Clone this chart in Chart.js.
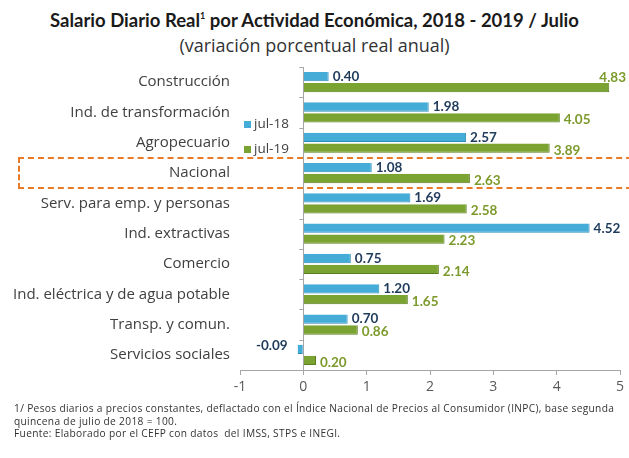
<!DOCTYPE html>
<html><head><meta charset="utf-8">
<script src="https://cdn.jsdelivr.net/npm/chart.js@4/dist/chart.umd.min.js"></script>
<style>
body{margin:0;background:#fff;}
#wrap{position:relative;width:629px;height:458px;overflow:hidden;font-family:'Lato',sans-serif;}
#title{position:absolute;top:9px;left:0;width:629px;text-align:center;font-weight:bold;font-size:18.5px;color:#1a1a1a;white-space:nowrap}
#title sup{font-size:9px;vertical-align:8px}
#sub{position:absolute;top:33px;left:0;width:629px;text-align:center;font-family:'Open Sans',sans-serif;font-size:18px;color:#333;white-space:nowrap}
canvas{position:absolute;left:0;top:0}
#box{position:absolute;left:18px;top:157px;width:640px;height:28px;border:2px dashed #E97A27;}
#legend{position:absolute;left:244px;top:111px;font-family:'Open Sans',sans-serif;font-size:13.5px;color:#404040;line-height:25px}
#legend span.sw{display:inline-block;width:7px;height:7px;margin-right:3px;vertical-align:0px}
#notes{position:absolute;left:14px;top:402px;font-family:'Open Sans',sans-serif;font-size:10.2px;color:#333;line-height:12.5px;white-space:nowrap;letter-spacing:0.32px}
</style></head>
<body>
<div id="wrap">
<div id="title">Salario Diario Real<sup>1</sup> por Actividad Económica, 2018 - 2019 / Julio</div>
<div id="sub">(variación porcentual real anual)</div>
<canvas id="c" width="629" height="458"></canvas>
<div id="box"></div>
<div id="legend"></div>
<div id="notes">1/ Pesos diarios a precios constantes, deflactado con el Índice Nacional de Precios al Consumidor (INPC), base segunda<br>quincena de julio de 2018 = 100.<br>Fuente: Elaborado por el CEFP con datos&nbsp; del IMSS, STPS e INEGI.</div>
</div>
<script>
const categories = ['Construcción','Ind. de transformación','Agropecuario','Nacional','Serv. para emp. y personas','Ind. extractivas','Comercio','Ind. eléctrica y de agua potable','Transp. y comun.','Servicios sociales'];
const seriesNames = ['jul-18','jul-19'];
const jul18 = [0.40,1.98,2.57,1.08,1.69,4.52,0.75,1.20,0.70,-0.09];
const jul19 = [4.83,4.05,3.89,2.63,2.58,2.23,2.14,1.65,0.86,0.20];
const xTicks = [-1,0,1,2,3,4,5];

const colors = ['#45ACD8','#7AA332'];
const labelColors = ['#1F3B5C','#7C9A2C'];

document.getElementById('legend').innerHTML = seriesNames.map((n,i)=>
  '<div><span class="sw" style="background:'+colors[i]+'"></span>'+n+'</div>').join('');

const valueLabels = {
  id:'valueLabels',
  afterDatasetsDraw(chart){
    const ctx = chart.ctx;
    ctx.save();
    ctx.font = 'bold 13.5px Lato, sans-serif';
    ctx.textBaseline = 'middle';
    chart.data.datasets.forEach((ds,di)=>{
      const meta = chart.getDatasetMeta(di);
      meta.data.forEach((bar,i)=>{
        const v = ds.data[i];
        const txt = v.toFixed(2);
        const w = ctx.measureText(txt).width;
        ctx.fillStyle = labelColors[di];
        let x = bar.x, y = bar.y + (di===1?2:0);
        if (v < 0){
          ctx.textAlign='right'; x = bar.x - 10; y = bar.y - 4;
        } else if (x + 4 + w > chart.width - 2){
          ctx.textAlign='right'; x = chart.width - 3; y = bar.y - 10;
        } else {
          ctx.textAlign='left'; x = x + 4;
        }
        ctx.fillText(txt,x,y);
      });
    });
    const xs = chart.scales.x, ys = chart.scales.y;
    const x0 = xs.getPixelForValue(0);
    ctx.strokeStyle = '#A6A6A6'; ctx.lineWidth = 1;
    const step = (ys.bottom - ys.top)/categories.length;
    for (let k=0;k<=categories.length;k++){
      const yy = Math.round(ys.top + k*step)+0.5;
      ctx.beginPath(); ctx.moveTo(x0-4,yy); ctx.lineTo(x0,yy); ctx.stroke();
    }
    ctx.restore();
  }
};

new Chart(document.getElementById('c'), {
  type:'bar',
  data:{
    labels:categories,
    datasets:[
      {label:seriesNames[0], data:jul18, backgroundColor:colors[0], borderColor:'#2F8DB8', borderWidth:{bottom:1,right:1,top:0,left:0}, categoryPercentage:0.72, barPercentage:0.85},
      {label:seriesNames[1], data:jul19, backgroundColor:colors[1], borderColor:'#5C7E1E', borderWidth:{bottom:1,right:1,top:0,left:0}, categoryPercentage:0.72, barPercentage:0.85}
    ]
  },
  options:{
    indexAxis:'y',
    responsive:false,
    animation:false,
    layout:{padding:{top:67,right:9,bottom:63,left:0}},
    plugins:{legend:{display:false},tooltip:{enabled:false},title:{display:false}},
    scales:{
      x:{
        min:-1,max:5,
        afterBuildTicks(s){ s.ticks = xTicks.map(v=>({value:v})); },
        afterFit(s){ s.height = 25; },
        border:{display:true,color:'#A6A6A6'},
        grid:{
          drawOnChartArea:true,drawTicks:true,tickLength:5,
          color:(c)=> c.tick && c.tick.value===0 ? '#A6A6A6' : 'rgba(0,0,0,0)',
          tickColor:'#A6A6A6'
        },
        ticks:{color:'#595959',font:{family:'Open Sans',size:14},padding:4}
      },
      y:{
        afterFit(s){ s.width = 240; },
        border:{display:false},
        grid:{display:false,drawTicks:false},
        ticks:{color:'#404040',font:{family:'Open Sans',size:15},padding:10}
      }
    }
  },
  plugins:[valueLabels]
});
</script>
</body></html>
